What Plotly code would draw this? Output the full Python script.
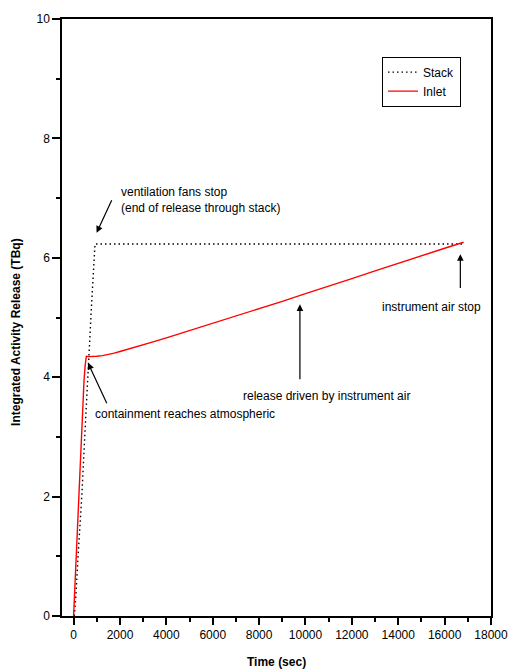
import plotly.graph_objects as go

# ---- data ----
stack_t = [30, 100, 200, 360, 500, 640, 780, 924, 16820]
stack_v = [0.0, 0.35, 1.05, 2.05, 3.15, 4.26, 5.25, 6.23, 6.23]

inlet_t = [0, 100, 200, 300, 400, 450, 500, 550, 650, 800, 1000, 1250, 1500, 1750, 2000,
           2500, 3000, 3500, 4000, 5000, 6000, 7000, 8000, 9000, 10000, 11000, 12000,
           13000, 14000, 15000, 16000, 16820]
inlet_v = [0.0, 0.9, 1.85, 2.75, 3.6, 3.95, 4.2, 4.35, 4.345, 4.345, 4.35, 4.362, 4.38,
           4.403, 4.43, 4.483, 4.54, 4.6, 4.66, 4.78, 4.91, 5.03, 5.15, 5.27, 5.40, 5.52,
           5.65, 5.78, 5.91, 6.03, 6.16, 6.26]

x_ticks = [0, 2000, 4000, 6000, 8000, 10000, 12000, 14000, 16000, 18000]
y_ticks = [0, 2, 4, 6, 8, 10]

FONT = "Liberation Sans, Arial, sans-serif"

fig = go.Figure()
fig.add_trace(go.Scatter(x=stack_t, y=stack_v, mode="lines", name="Stack",
                         line=dict(color="black", width=1.4, dash="1.5px,3px")))
fig.add_trace(go.Scatter(x=inlet_t, y=inlet_v, mode="lines", name="Inlet",
                         line=dict(color="#ff0000", width=1.4)))

axis_common = dict(showgrid=False, zeroline=False, showline=True, linecolor="black",
                   linewidth=1.5, mirror=True, ticks="outside", tickcolor="black",
                   tickwidth=1.5, tickfont=dict(family=FONT, size=12, color="black"))

fig.update_xaxes(range=[-500, 18000], tickmode="array", tickvals=x_ticks,
                 ticktext=[str(v) for v in x_ticks], ticklen=7,
                 minor=dict(ticks="outside", dtick=1000, tick0=0, ticklen=4,
                            tickwidth=1.5, tickcolor="black"),
                 **axis_common)
fig.update_yaxes(range=[0, 10], tickmode="array", tickvals=y_ticks,
                 ticktext=[str(v) for v in y_ticks], ticklen=8,
                 minor=dict(ticks="outside", dtick=1, tick0=0, ticklen=4,
                            tickwidth=1.5, tickcolor="black"),
                 **axis_common)

ann_font = dict(family=FONT, size=12, color="black")
arrow_style = dict(xref="x", yref="y", axref="x", ayref="y", text="", showarrow=True,
                   arrowhead=2, arrowsize=1.1, arrowwidth=1.2, arrowcolor="black")
annotations = [
    # texts
    dict(x=1972, y=6.97, xref="x", yref="y", text="ventilation fans stop<br>(end of release through stack)",
         showarrow=False, xanchor="left", yanchor="middle", align="left", font=ann_font),
    dict(x=821, y=3.39, xref="x", yref="y", text="containment reaches atmospheric",
         showarrow=False, xanchor="left", yanchor="middle", font=ann_font),
    dict(x=10903, y=3.68, xref="x", yref="y", text="release driven by instrument air",
         showarrow=False, xanchor="center", yanchor="middle", font=ann_font),
    dict(x=15442, y=5.17, xref="x", yref="y", text="instrument air stop",
         showarrow=False, xanchor="center", yanchor="middle", font=ann_font),
    # arrows
    dict(x=992, y=6.42, ax=1674, ay=6.99, **arrow_style),
    dict(x=621, y=4.24, ax=1461, ay=3.54, **arrow_style),
    dict(x=9760, y=5.22, ax=9760, ay=3.94, **arrow_style),
    dict(x=16678, y=6.06, ax=16678, ay=5.47, **arrow_style),
    # axis titles
    dict(x=0.5, y=-0.0777, xref="paper", yref="paper", text="<b>Time (sec)</b>",
         showarrow=False, xanchor="center", yanchor="middle", font=ann_font),
    dict(x=-0.106, y=0.475, xref="paper", yref="paper", text="<b>Integrated Activity Release (TBq)</b>",
         showarrow=False, xanchor="center", yanchor="middle", textangle=-90, font=ann_font),
]

fig.update_layout(
    width=520, height=672,
    margin=dict(l=62, r=24, t=15, b=56),
    paper_bgcolor="white", plot_bgcolor="white",
    font=dict(family=FONT, size=12, color="black"),
    showlegend=True,
    legend=dict(x=0.746, y=0.937, xanchor="left", yanchor="top",
                bordercolor="black", borderwidth=1, bgcolor="white",
                font=dict(family=FONT, size=12, color="black"),
                itemwidth=30, tracegroupgap=0),
    annotations=annotations,
)

# remove the browser's default 8px body margin so the figure fills the window
fig.write_html(
    "out.html",
    config={"displayModeBar": False},
    post_script="document.body.style.margin='0px';document.body.style.overflow='hidden';",
)
